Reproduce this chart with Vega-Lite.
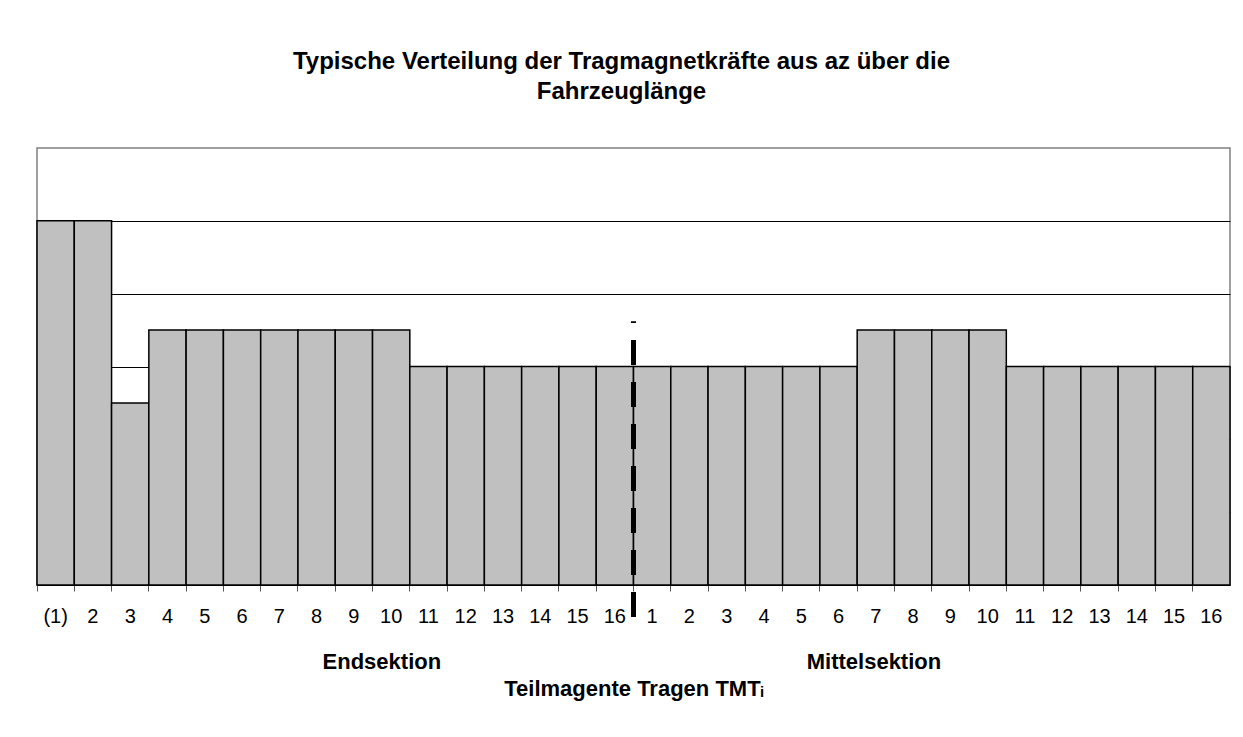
{
  "$schema": "https://vega.github.io/schema/vega-lite/v6.json",
  "width": 1193,
  "height": 437,
  "autosize": {"type": "none"},
  "padding": {"left": 37, "top": 148, "right": 13, "bottom": 152},
  "background": "white",
  "title": {
    "text": ["Typische Verteilung der Tragmagnetkräfte aus az über die", "Fahrzeuglänge"],
    "font": "Liberation Sans",
    "fontSize": 24,
    "fontWeight": "bold",
    "color": "black",
    "anchor": "middle",
    "frame": "group",
    "dx": -12,
    "lineHeight": 30,
    "offset": 44
  },
  "datasets": {
    "bars": [
      {"pos": "E(1)", "force": 5},
      {"pos": "E2", "force": 5},
      {"pos": "E3", "force": 2.5},
      {"pos": "E4", "force": 3.5},
      {"pos": "E5", "force": 3.5},
      {"pos": "E6", "force": 3.5},
      {"pos": "E7", "force": 3.5},
      {"pos": "E8", "force": 3.5},
      {"pos": "E9", "force": 3.5},
      {"pos": "E10", "force": 3.5},
      {"pos": "E11", "force": 3},
      {"pos": "E12", "force": 3},
      {"pos": "E13", "force": 3},
      {"pos": "E14", "force": 3},
      {"pos": "E15", "force": 3},
      {"pos": "E16", "force": 3},
      {"pos": "M1", "force": 3},
      {"pos": "M2", "force": 3},
      {"pos": "M3", "force": 3},
      {"pos": "M4", "force": 3},
      {"pos": "M5", "force": 3},
      {"pos": "M6", "force": 3},
      {"pos": "M7", "force": 3.5},
      {"pos": "M8", "force": 3.5},
      {"pos": "M9", "force": 3.5},
      {"pos": "M10", "force": 3.5},
      {"pos": "M11", "force": 3},
      {"pos": "M12", "force": 3},
      {"pos": "M13", "force": 3},
      {"pos": "M14", "force": 3},
      {"pos": "M15", "force": 3},
      {"pos": "M16", "force": 3}
    ]
  },
  "layer": [
    {
      "data": {"name": "bars"},
      "mark": {"type": "bar", "fill": "#C0C0C0", "stroke": "black", "strokeWidth": 1.5},
      "encoding": {
        "x": {
          "field": "pos",
          "type": "nominal",
          "sort": null,
          "scale": {"paddingInner": 0, "paddingOuter": 0},
          "axis": {
            "title": "Teilmagente Tragen TMTᵢ",
            "titleFont": "Liberation Sans",
            "titleFontSize": 22,
            "titleFontWeight": "bold",
            "titleColor": "black",
            "titlePadding": 52,
            "labelExpr": "substring(datum.value, 1)",
            "labelAngle": 0,
            "labelFont": "Liberation Sans",
            "labelFontSize": 20,
            "labelColor": "black",
            "labelPadding": 15,
            "bandPosition": 0,
            "tickSize": 6,
            "tickColor": "#555555",
            "domainColor": "black",
            "grid": false
          }
        },
        "y": {
          "field": "force",
          "type": "quantitative",
          "scale": {"domain": [0, 6], "nice": false, "zero": true},
          "axis": {
            "title": null,
            "labels": false,
            "ticks": false,
            "domain": false,
            "grid": true,
            "values": [1, 2, 3, 4, 5],
            "gridColor": "black",
            "gridWidth": 1,
            "gridOpacity": 1
          }
        }
      }
    },
    {
      "data": {"values": [{"pos": "E10", "label": "Endsektion"}]},
      "mark": {"type": "text", "font": "Liberation Sans", "fontSize": 22, "fontWeight": "bold", "color": "black", "baseline": "alphabetic", "dy": 84},
      "encoding": {
        "x": {"field": "pos", "type": "nominal", "sort": null, "bandPosition": 0.25},
        "y": {"datum": 0, "type": "quantitative"},
        "text": {"field": "label"}
      }
    },
    {
      "data": {"values": [{"pos": "M7", "label": "Mittelsektion"}]},
      "mark": {"type": "text", "font": "Liberation Sans", "fontSize": 22, "fontWeight": "bold", "color": "black", "baseline": "alphabetic", "dy": 84},
      "encoding": {
        "x": {"field": "pos", "type": "nominal", "sort": null, "bandPosition": 0.45},
        "y": {"datum": 0, "type": "quantitative"},
        "text": {"field": "label"}
      }
    },
    {
      "data": {"values": [{"pos": "E16", "top": 3.62, "bottom": -0.44}]},
      "mark": {"type": "rule", "stroke": "black", "strokeWidth": 5, "strokeDash": [25, 17], "strokeCap": "butt"},
      "encoding": {
        "x": {"field": "pos", "type": "nominal", "sort": null, "bandPosition": 1},
        "y": {"field": "bottom", "type": "quantitative"},
        "y2": {"field": "top"}
      }
    }
  ],
  "config": {
    "view": {"stroke": "#808080", "strokeWidth": 1.5},
    "font": "Liberation Sans"
  }
}
